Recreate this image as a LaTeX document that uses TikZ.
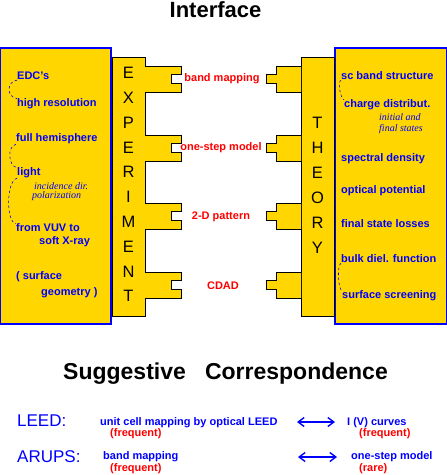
\documentclass[tikz,border=0pt]{standalone}
\usepackage{fontspec}
\setmainfont{Liberation Sans}
\newfontfamily\notefont{Liberation Serif}
\usetikzlibrary{arrows.meta}
\definecolor{gold}{RGB}{255,214,0}

\begin{document}
\begin{tikzpicture}[x=1pt,y=-1pt,>={Straight Barb[length=6pt,width=9pt]},
    panel/.style={draw=blue,fill=gold,line width=1.2pt},
    bar/.style={draw=black,fill=gold,line width=0.8pt},
    letter/.style={inner sep=0pt,font=\fontsize{16.5}{18}\selectfont},
    item/.style={anchor=west,inner sep=0pt,text=blue,font=\fontsize{11}{13}\selectfont\bfseries},
    note/.style={anchor=west,inner sep=0pt,text=blue,font=\notefont\itshape\fontsize{10}{11}\selectfont},
    match/.style={inner sep=0pt,text=red,font=\fontsize{11}{13}\selectfont\bfseries},
    rate/.style={anchor=west,inner sep=0pt,text=red,font=\fontsize{11}{13}\selectfont\bfseries},
    heading/.style={inner sep=0pt,anchor=base,font=\fontsize{22}{26}\selectfont\bfseries},
    method/.style={anchor=west,inner sep=0pt,text=blue,font=\fontsize{17}{20}\selectfont},
    hint/.style={blue,line width=0.6pt,dash pattern=on 2.5pt off 2.5pt},
    corr/.style={blue,line width=1.4pt,<->}]

    \useasboundingbox (0,0) rectangle (447,475);

    \node[heading] (head) at (215.5,17) {Interface};
    \node[heading,font=\fontsize{23}{27}\selectfont\bfseries] (sugg) at (225.5,379) {Suggestive\ \ \ Correspondence};

    \draw[panel] (0.6,48) rectangle (111,324);
    \draw[panel] (335,48) rectangle (446.4,324);
    \draw[bar] (112,57) rectangle (145,316);
    \draw[bar] (301,57) rectangle (334,316);

    \foreach \c in {79,148,216,285} {
        \draw[bar] (145,\c-13) -- (181,\c-13) -- (181,\c-4.5) -- (171,\c-4.5)
            -- (171,\c+4.5) -- (181,\c+4.5) -- (181,\c+13) -- (145,\c+13);
        \draw[bar] (301,\c-13) -- (276,\c-13) -- (276,\c-4.5) -- (266,\c-4.5)
            -- (266,\c+4.5) -- (276,\c+4.5) -- (276,\c+13) -- (301,\c+13);
    }

    \foreach \l [count=\i from 0] in {E,X,P,E,R,I,M,E,N,T}
        \node[letter] (exp\i) at (128.5,73+24.8*\i) {\l};
    \foreach \l [count=\i from 0] in {T,H,E,O,R,Y}
        \node[letter] (th\i) at (317.5,123+25*\i) {\l};

    \node[match] (band) at (222,79)  {band mapping};
    \node[match] (step) at (221,148) {one-step model};
    \node[match] (patt) at (221,217) {2-D pattern};
    \node[match] (cdad) at (223,286) {CDAD};

    \node[item] (edc)   at (17,76)  {EDC's};
    \node[item] (hres)  at (17,104) {high resolution};
    \node[item] (fullh) at (16,139) {full hemisphere};
    \node[item] (light) at (17,173) {light};
    \node[note] (incid) at (34,186) {incidence dir.};
    \node[note] (polar) at (32,196.5) {polarization};
    \node[item] (vuv)   at (16,228) {from VUV to};
    \node[item] (xray)  at (39,242) {soft X-ray};
    \node[item] (surf)  at (16,277) {( surface};
    \node[item] (geom)  at (41,293) {geometry )};

    \draw[hint] (edc.south west) to[out=190,in=170,looseness=1.5] (hres.north west);
    \draw[hint] (fullh.south west) to[out=190,in=170] (light.north west);
    \draw[hint] (light.south west) to[out=190,in=170,looseness=0.6] (vuv.north west);

    \node[item] (scb)    at (341,76)  {sc band structure};
    \node[item] (charge) at (344,105) {charge distribut.};
    \node[note] (initl)  at (379,117.5) {initial and};
    \node[note] (finst)  at (379,129) {final states};
    \node[item] (spec)   at (341,159) {spectral density};
    \node[item] (optp)   at (341,191) {optical potential};
    \node[item] (fsl)    at (341,224) {final state losses};
    \node[item] (bulk)   at (341,259) {bulk diel. function};
    \node[item] (sscr)   at (342,296) {surface screening};

    \draw[hint] (scb.south west) to[out=200,in=160,looseness=0.5] (charge.north west);
    \draw[hint] (bulk.south west) to[out=200,in=160,looseness=0.4] (sscr.north west);

    \node[method] (leed)  at (17,421) {LEED:};
    \node[method] (arups) at (17,457) {ARUPS:};
    \node[item] (unitc) at (100,423) {unit cell mapping by optical LEED};
    \node[rate] (fr1)   at (110,434) {(frequent)};
    \node[item] (bandm) at (103,457) {band mapping};
    \node[rate] (fr2)   at (110,469) {(frequent)};
    \node[item] (ivc)   at (347,423) {I (V) curves};
    \node[rate] (fr3)   at (359,434) {(frequent)};
    \node[item] (osm)   at (351,457) {one-step model};
    \node[rate] (rare)  at (359,469) {(rare)};

    \coordinate (l1) at (297,422);
    \coordinate (r1) at (335,422);
    \coordinate (l2) at (298,457);
    \coordinate (r2) at (337,457);
    \draw[corr] (l1) -- (r1);
    \draw[corr] (l2) -- (r2);
\end{tikzpicture}
\end{document}
